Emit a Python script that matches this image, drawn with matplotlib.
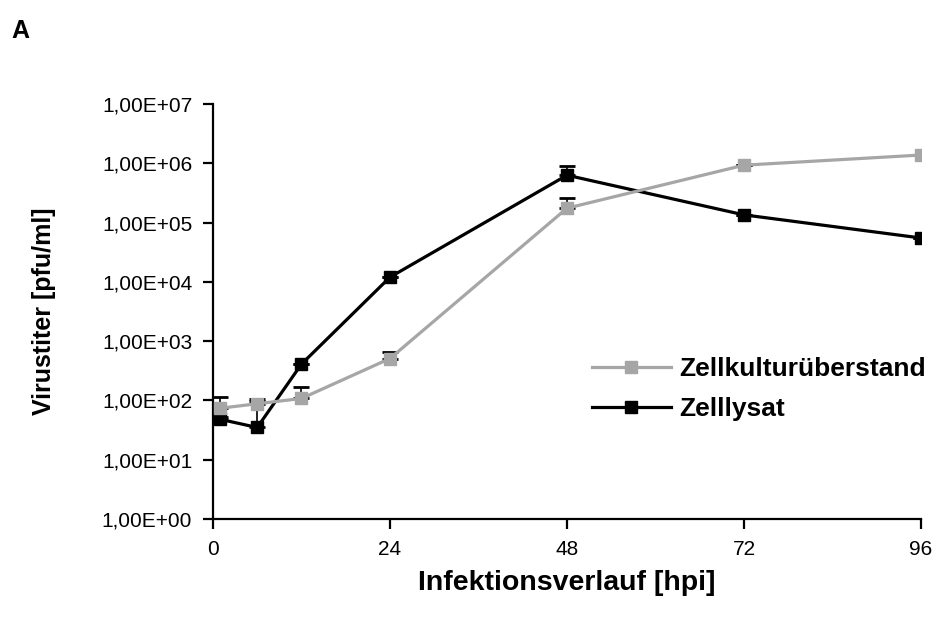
import math
import matplotlib.pyplot as plt
from matplotlib.ticker import FixedLocator, FuncFormatter

plt.rcParams['font.family'] = ['Liberation Sans', 'DejaVu Sans']

# Daten
hpi = [1, 6, 12, 24, 48, 72, 96]
ueberstand = [74, 88, 108, 510, 1.75e5, 9.3e5, 1.38e6]
ueberstand_err = [40, 10, 60, 150, 8e4, 0, 0]
lysat = [48, 35, 410, 1.2e4, 6.3e5, 1.35e5, 5.5e4]
lysat_err = [5, 70, 0, 0, 2.6e5, 0, 0]

y_ticks = [1e0, 1e1, 1e2, 1e3, 1e4, 1e5, 1e6, 1e7]
x_ticks = [0, 24, 48, 72, 96]

fig = plt.figure(figsize=(9.39, 6.17), dpi=100)
ax = fig.add_axes([0.2268, 0.1588, 0.754, 0.6726])

gray = '#a6a6a6'

# Fehlerbalken (nur nach oben)
ax.errorbar(hpi, ueberstand, yerr=[[0] * 7, ueberstand_err], fmt='none',
            ecolor='black', elinewidth=1.2, capsize=6, capthick=2, zorder=1)
ax.errorbar(hpi, lysat, yerr=[[0] * 7, lysat_err], fmt='none',
            ecolor='black', elinewidth=1.2, capsize=6, capthick=2, zorder=1)

ax.plot(hpi, lysat, color='black', marker='s', markersize=8.5,
        linewidth=2.3, label='Zelllysat', zorder=2)
ax.plot(hpi, ueberstand, color=gray, marker='s', markersize=8.5,
        linewidth=2.3, label='Zellkulturüberstand', zorder=3)

ax.set_yscale('log')
ax.set_ylim(1, 1e7)
ax.set_xlim(0, 96)
ax.yaxis.set_major_locator(FixedLocator(y_ticks))
ax.yaxis.set_minor_locator(FixedLocator([]))
ax.yaxis.set_major_formatter(FuncFormatter(
    lambda v, p: '1,00E+%02d' % round(math.log10(v))))
ax.set_xticks(x_ticks)

for s in ['top', 'right']:
    ax.spines[s].set_visible(False)
for s in ['left', 'bottom']:
    ax.spines[s].set_linewidth(1.6)
ax.tick_params(axis='both', direction='out', length=7, width=1.6,
               labelsize=15, pad=8)

ax.set_xlabel('Infektionsverlauf [hpi]', fontsize=20.5, fontweight='bold',
              va='top')
ax.xaxis.set_label_coords(0.5, -0.122)
ax.set_ylabel('Virustiter [pfu/ml]', fontsize=18, fontweight='bold')
ax.yaxis.set_label_coords(-0.222, 0.5)

handles, labels = ax.get_legend_handles_labels()
leg = ax.legend(handles[::-1], labels[::-1], loc='center right',
                bbox_to_anchor=(1.04, 0.313), frameon=False,
                prop={'weight': 'bold', 'size': 19}, handlelength=3.0,
                handletextpad=0.3, labelspacing=0.6)

fig.text(0.012, 0.938, 'A', fontsize=18, fontweight='bold')

fig.savefig('out.png', dpi=100)
